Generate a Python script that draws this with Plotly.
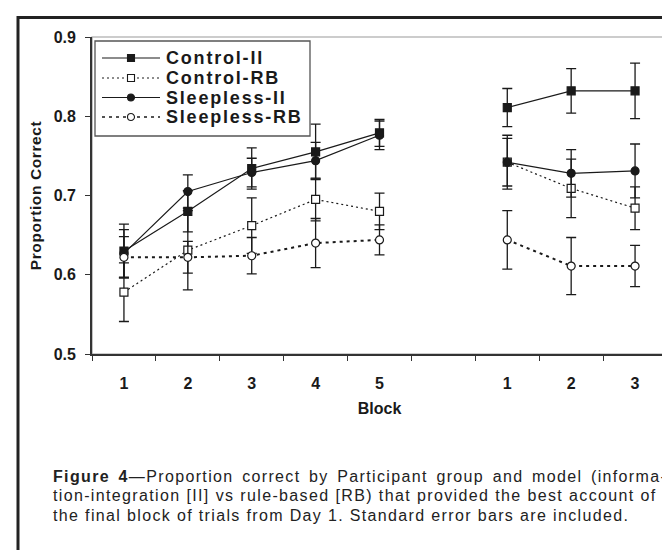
import plotly.graph_objects as go

# ---------------- data ----------------
block_labels = ["1", "2", "3", "4", "5", "", "1", "2", "3"]
positions = list(range(1, len(block_labels) + 1))

control_ii = [0.630, 0.680, 0.734, 0.755, 0.779, None, 0.811, 0.832, 0.832]
control_ii_se = [0.034, 0.026, 0.026, 0.035, 0.017, None, 0.024, 0.028, 0.035]
control_rb = [0.578, 0.631, 0.662, 0.695, 0.680, None, 0.742, 0.709, 0.684]
control_rb_se = [0.037, 0.050, 0.035, 0.027, 0.023, None, 0.030, 0.037, 0.027]
sleepless_ii = [0.627, 0.705, 0.729, 0.744, 0.776, None, 0.742, 0.728, 0.731]
sleepless_ii_se = [0.030, 0.021, 0.018, 0.023, 0.018, None, 0.034, 0.030, 0.034]
sleepless_rb = [0.622, 0.622, 0.624, 0.640, 0.644, None, 0.644, 0.611, 0.611]
sleepless_rb_se = [0.026, 0.020, 0.023, 0.031, 0.019, None, 0.037, 0.036, 0.026]

series_names = ["Control-II", "Control-RB", "Sleepless-II", "Sleepless-RB"]

caption_lead = "Figure 4"
caption_lines = [
    "Figure 4\u2014Proportion correct by Participant group and model (informa-",
    "tion-integration [II] vs rule-based [RB) that provided the best account of",
    "the final block of trials from Day 1. Standard error bars are included.",
]
caption_word_gap = [2.8, 0.2, 0]  # extra word spacing emulating the justified lines

# ---------------- styles ----------------
INK = "#1a1a1a"
styles = [
    dict(dash="solid", lw=1.2, sym="square", fill=INK, size=8),
    dict(dash="2px,3px", lw=1.2, sym="square", fill="white", size=8),
    dict(dash="solid", lw=1.2, sym="circle", fill=INK, size=8),
    dict(dash="3px,4px", lw=2.0, sym="circle", fill="white", size=8),
]
values = [control_ii, control_rb, sleepless_ii, sleepless_rb]
errors = [control_ii_se, control_rb_se, sleepless_ii_se, sleepless_rb_se]

L, R, T, B = 84, 11, 29, 204
FW, FH = 670, 550
PW, PH = FW - L - R, FH - T - B


def px(x):
    return (x - L) / PW


def py(y):
    return (FH - B - y) / PH


fig = go.Figure()
for name, vals, errs, st in zip(series_names, values, errors, styles):
    fig.add_trace(go.Scatter(
        x=positions, y=vals, name=name, mode="lines+markers",
        connectgaps=False, showlegend=False,
        line=dict(color=INK, width=st["lw"], dash=st["dash"]),
        marker=dict(symbol=st["sym"], size=st["size"], color=st["fill"],
                    line=dict(color=INK, width=1.2)),
        error_y=dict(type="data", array=errs, visible=True, color=INK,
                     thickness=1.3, width=5),
    ))

shapes = []
annotations = []

# plot-area border (light gray, top/right visible)
shapes.append(dict(type="rect", xref="paper", yref="paper", x0=0, x1=1, y0=0, y1=1,
                   line=dict(color="#9a9a9a", width=1.2), layer="below"))
# outer page frame (only top and left visible in the crop)
shapes.append(dict(type="rect", xref="paper", yref="paper",
                   x0=px(10), x1=px(720), y0=py(9.5), y1=py(620),
                   line=dict(color="#222", width=3)))

# custom legend
lg_x0, lg_x1, lg_y0, lg_y1 = 87, 302, 33, 128
shapes.append(dict(type="rect", xref="paper", yref="paper",
                   x0=px(lg_x0), x1=px(lg_x1), y0=py(lg_y1), y1=py(lg_y0),
                   line=dict(color="#555", width=1.3), fillcolor="white"))
row_y = [50, 70, 89.5, 109]
for name, st, ry in zip(series_names, styles, row_y):
    shapes.append(dict(type="line", xref="paper", yref="paper",
                       x0=px(94), x1=px(152), y0=py(ry), y1=py(ry),
                       line=dict(color=INK, width=min(st["lw"], 1.6), dash=st["dash"])))
    shapes.append(dict(type="rect" if st["sym"] == "square" else "circle",
                       xref="paper", yref="paper",
                       xsizemode="pixel", ysizemode="pixel",
                       xanchor=px(123), yanchor=py(ry),
                       x0=-3.5, x1=3.5, y0=-3.5, y1=3.5,
                       fillcolor=st["fill"], line=dict(color=INK, width=1.1)))
    annotations.append(dict(xref="paper", yref="paper", x=px(156), y=py(ry),
                            xanchor="left", yanchor="middle", showarrow=False,
                            text='<span style="letter-spacing:1.8px"><b>%s</b></span>' % name,
                            font=dict(family="Liberation Sans, Arial", size=18, color=INK)))


# caption, one text per line, each word its own span
def caption_markup(line, extra_gap):
    tokens = line.split(" ")
    lead = caption_lead.split(" ")
    if line.startswith(caption_lead):
        for i, w in enumerate(lead):
            tokens[i] = tokens[i].replace(w, "<b>%s</b>" % w, 1)
    word = '<span style="letter-spacing:1.35px">%s</span>'
    gap = '<span style="letter-spacing:%.2fpx">\u00a0</span>' % (1.35 + extra_gap)
    return gap.join(word % t for t in tokens)


for line, wg, cy in zip(caption_lines, caption_word_gap, [468, 487.5, 507]):
    annotations.append(dict(
        xref="paper", yref="paper", x=px(43), y=py(cy),
        xanchor="left", yanchor="middle", showarrow=False,
        text=caption_markup(line, wg),
        font=dict(family="Liberation Sans, Arial", size=16, color="#222")))

fig.update_layout(
    width=FW, height=FH, autosize=False,
    margin=dict(l=L, r=R, t=T, b=B, pad=0),
    paper_bgcolor="white", plot_bgcolor="white",
    font=dict(family="Liberation Sans, Arial", color=INK),
    shapes=shapes, annotations=annotations,
    showlegend=False,
)
fig.update_xaxes(
    range=[0.5, 9.5], tickmode="array",
    tickvals=[p for p, t in zip(positions, block_labels) if t],
    ticktext=[t for t in block_labels if t],
    ticks="", showgrid=False, zeroline=False,
    showline=True, linecolor="#333", linewidth=1.5,
    tickfont=dict(size=16, color=INK, weight="bold"),
    ticklabelstandoff=14,
    minor=dict(tick0=0.5, dtick=1, ticks="outside", ticklen=5,
               tickcolor="#333", tickwidth=1.2, showgrid=False),
    title=dict(text="<b>Block</b>", font=dict(size=16, color=INK), standoff=12),
)
fig.update_yaxes(
    range=[0.5, 0.9], dtick=0.1, tick0=0.5, tickformat=".1f",
    ticks="outside", ticklen=5, tickcolor="#333", tickwidth=1.2,
    showgrid=False, zeroline=False,
    showline=True, linecolor="#333", linewidth=1.8,
    tickfont=dict(size=16, color=INK, weight="bold"),
    ticklabelstandoff=6,
    title=dict(text='<span style="letter-spacing:0.6px"><b>Proportion Correct</b></span>',
               font=dict(size=15.5, color=INK), standoff=8),
)

fig.write_html("out.html")
